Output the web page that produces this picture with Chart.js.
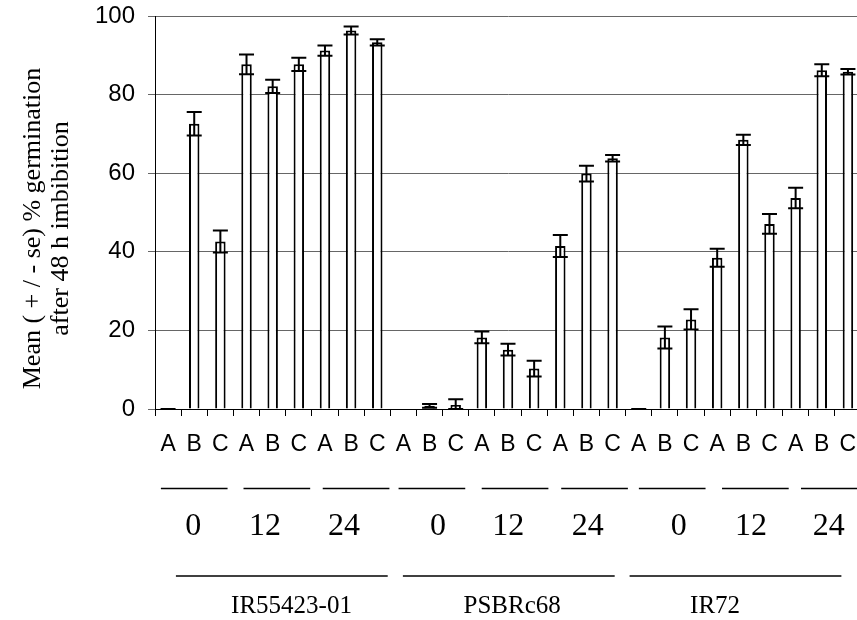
<!DOCTYPE html>
<html>
<head>
<meta charset="utf-8">
<script src="https://cdn.jsdelivr.net/npm/chart.js@4.4.1/dist/chart.umd.min.js"></script>
<style>
  html, body { margin: 0; padding: 0; background: #fff; overflow: hidden; }
  #wrap { width: 861px; height: 620px; }
</style>
</head>
<body>
<div id="wrap"><canvas id="myChart" width="861" height="620"></canvas></div>
<script>
// categories
const varieties = ['IR55423-01', 'PSBRc68', 'IR72'];
const hours = ['0', '12', '24'];
const treatments = ['A', 'B', 'C'];

// mean % germination, 0/12/24 h x A/B/C for each variety
const meanIR55423 = [0, 72.6, 42.6, 87.7, 82.1, 87.7, 91.2, 96.3, 93.3];
const meanPSBRc68 = [0, 0.8, 1.0, 18.2, 15.1, 10.3, 41.5, 59.9, 63.8];
const meanIR72 = [0, 18.2, 22.8, 38.5, 68.5, 47.1, 53.7, 86.2, 85.8];

// standard errors (null = no error bar drawn)
const seIR55423 = [0, 3.0, 2.8, 2.5, 1.7, 1.7, 1.3, 1.0, 0.8];
const sePSBRc68 = [null, 0.5, 1.5, 1.5, 1.5, 2.0, 2.8, 2.0, 0.8];
const seIR72 = [0, 2.8, 2.6, 2.3, 1.3, 2.5, 2.6, 1.5, 0.7];

const yTicks = [0, 20, 40, 60, 80, 100];

// where the hand-drawn group marks sit, in category units
const hourLineAt = [1.0, 4.16, 7.19, 10.09, 13.27, 16.31, 19.28, 22.46, 25.48];
const hourTextAt = [0.96, 3.71, 6.73, 10.32, 13.01, 16.05, 19.53, 22.29, 25.27];
const varietyLineAt = [4.35, 13.03, 21.70];
const varietyTextAt = [4.72, 13.16, 20.92];

const labels = [];
varieties.forEach(() => hours.forEach(() => treatments.forEach(t => labels.push(t))));
const means = [].concat(meanIR55423, meanPSBRc68, meanIR72);
const ses = [].concat(seIR55423, sePSBRc68, seIR72);

const errorBars = {
  id: 'errorBars',
  afterDatasetsDraw(chart) {
    const ctx = chart.ctx;
    const y = chart.scales.y;
    const bars = chart.getDatasetMeta(0).data;
    ctx.save();
    ctx.strokeStyle = '#000';
    ctx.lineWidth = 2;
    means.forEach((m, i) => {
      if (ses[i] === null) return;
      const x = bars[i].x;
      const top = y.getPixelForValue(m + ses[i]);
      const bot = y.getPixelForValue(Math.max(m - ses[i], 0));
      ctx.beginPath();
      ctx.moveTo(x, top); ctx.lineTo(x, bot);
      ctx.moveTo(x - 7.5, top); ctx.lineTo(x + 7.5, top);
      ctx.moveTo(x - 7.5, bot); ctx.lineTo(x + 7.5, bot);
      ctx.stroke();
    });
    ctx.restore();
  }
};

const groupMarks = {
  id: 'groupMarks',
  afterDraw(chart) {
    const ctx = chart.ctx;
    const x = chart.scales.x;
    const area = chart.chartArea;
    const cw = x.getPixelForValue(1) - x.getPixelForValue(0);
    ctx.save();
    ctx.strokeStyle = '#000';
    ctx.fillStyle = '#000';
    ctx.lineWidth = 1.5;
    ctx.textAlign = 'center';
    ctx.textBaseline = 'middle';

    // hours row
    hourLineAt.forEach(p => {
      const cx = x.getPixelForValue(p);
      ctx.beginPath();
      ctx.moveTo(cx - cw * 1.275, 488.5);
      ctx.lineTo(cx + cw * 1.275, 488.5);
      ctx.stroke();
    });
    ctx.font = '32px "Liberation Serif"';
    hourTextAt.forEach((p, i) => {
      ctx.fillText(hours[i % 3], x.getPixelForValue(p), 527);
    });

    // varieties row
    varietyLineAt.forEach(p => {
      const cx = x.getPixelForValue(p);
      ctx.beginPath();
      ctx.moveTo(cx - cw * 4.05, 576);
      ctx.lineTo(cx + cw * 4.05, 576);
      ctx.stroke();
    });
    ctx.font = '25px "Liberation Serif"';
    varietyTextAt.forEach((p, i) => {
      ctx.fillText(varieties[i], x.getPixelForValue(p), 606);
    });

    // y axis title
    const my = (area.top + area.bottom) / 2 + 16;
    ctx.font = '26px "Liberation Serif"';
    ctx.translate(33, my);
    ctx.rotate(-Math.PI / 2);
    ctx.fillText('Mean ( + / - se) % germination', 0, 0);
    ctx.fillText('after 48 h imbibition', 0, 28);
    ctx.restore();
  }
};

Chart.defaults.font.family = '"Liberation Sans", Arial, sans-serif';
Chart.defaults.color = '#000';

new Chart(document.getElementById('myChart'), {
  type: 'bar',
  data: {
    labels: labels,
    datasets: [{
      data: means,
      backgroundColor: '#fff',
      borderColor: '#000',
      borderWidth: 2,
      barPercentage: 0.4,
      categoryPercentage: 1.0
    }]
  },
  options: {
    responsive: false,
    animation: false,
    layout: { padding: { top: 16, left: 0, right: 0, bottom: 0 } },
    plugins: { legend: { display: false }, tooltip: { enabled: false } },
    scales: {
      x: {
        grid: { drawOnChartArea: false, drawTicks: true, tickLength: 7, color: '#000', offset: true },
        border: { color: '#000', width: 1 },
        ticks: { autoSkip: false, maxRotation: 0, font: { size: 23 }, padding: 15 },
        afterFit(scale) {
          scale.height = 211;
          scale.paddingLeft = 0;
          scale.paddingRight = 0;
        }
      },
      y: {
        min: 0,
        max: 100,
        afterBuildTicks(scale) { scale.ticks = yTicks.map(v => ({ value: v })); },
        grid: { color: '#666', lineWidth: 1, tickLength: 7 },
        border: { color: '#000', width: 1 },
        ticks: { font: { size: 24 }, padding: 13 },
        afterFit(scale) {
          scale.width = 155;
          scale.paddingTop = 0;
          scale.paddingBottom = 0;
        }
      }
    }
  },
  plugins: [errorBars, groupMarks]
});
</script>
</body>
</html>
